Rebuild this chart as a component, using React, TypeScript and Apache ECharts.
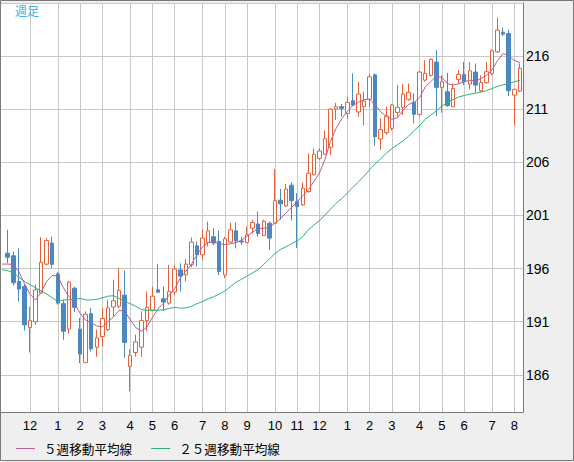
import React, { useEffect, useRef } from "react";
import * as echarts from "echarts";

// Weekly candles (week index 0..92)
const opens = [
  197.45, 197.2, 194.79, 194.3, 190.45, 191.0, 193.7, 196.42, 198.4, 195.5,
  192.7, 190.3, 194.15, 190.3, 187.15, 191.75, 188.6, 189.6, 190.25, 192.38,
  192.45, 193.5, 186.8, 188.1, 188.6, 191.1, 192.1, 194.0, 193.16, 192.75,
  193.8, 195.87, 195.42, 196.36, 198.14, 197.3, 198.45, 199.0, 198.55, 195.4,
  198.5, 199.55, 198.6, 198.45, 199.8, 200.2, 199.1, 200.27, 200.27, 202.44,
  201.9, 203.85, 202.3, 202.0, 203.25, 204.82, 206.38, 206.76, 207.42, 211.02,
  211.24, 210.6, 211.8, 210.74, 211.24, 211.93, 214.24, 208.2, 208.8, 209.2,
  210.7, 211.18, 211.93, 211.65, 210.52, 213.74, 214.2, 215.44, 213.06, 212.65,
  211.24, 213.81, 214.28, 213.37, 214.5, 212.74, 213.5, 214.37, 216.4, 218.25,
  218.13, 212.33, 212.71,
];
const closes = [
  197.07, 194.66, 194.07, 190.7, 191.1, 194.0, 196.6, 198.64, 196.4, 192.75,
  190.1, 194.73, 192.35, 187.96, 191.7, 188.45, 189.47, 191.3, 192.3, 192.97,
  193.95, 189.05, 187.8, 189.1, 191.1, 192.35, 193.4, 193.77, 192.85, 193.85,
  195.95, 195.3, 196.42, 198.5, 197.3, 198.87, 199.55, 198.4, 195.73, 198.8,
  199.65, 198.6, 198.5, 199.18, 200.33, 199.3, 200.46, 198.87, 202.4, 202.1,
  203.47, 202.4, 201.84, 203.57, 204.97, 206.76, 207.07, 208.23, 211.0, 211.24,
  211.08, 211.65, 211.4, 212.43, 211.77, 214.05, 208.42, 209.1, 210.35, 211.4,
  211.18, 212.43, 212.59, 210.52, 214.5, 214.37, 215.69, 213.06, 213.58, 211.33,
  212.96, 214.28, 213.58, 214.62, 213.27, 213.5, 214.53, 216.5, 218.44, 218.07,
  212.74, 212.87, 214.84,
];
const lows = [
  196.5, 194.4, 192.9, 190.15, 188.1, 190.7, 193.6, 196.3, 196.05, 192.6,
  189.3, 189.9, 191.9, 187.1, 187.1, 188.2, 187.7, 188.7, 190.1, 191.5,
  192.3, 187.6, 184.45, 187.7, 187.7, 190.1, 192.0, 193.7, 192.0, 192.6,
  193.5, 193.85, 194.79, 196.14, 196.2, 196.83, 198.1, 198.2, 195.4, 195.1,
  198.4, 197.9, 198.24, 198.4, 199.3, 199.0, 199.1, 197.77, 200.27, 200.6,
  201.8, 200.52, 197.93, 201.9, 203.15, 204.8, 206.23, 206.7, 206.7, 209.98,
  210.3, 210.1, 211.3, 210.3, 209.5, 211.24, 207.57, 207.17, 208.58, 209.0,
  210.3, 210.45, 211.8, 209.67, 210.3, 213.6, 214.06, 210.36, 210.67, 211.24,
  211.2, 213.37, 213.27, 212.87, 212.55, 212.6, 213.4, 214.2, 216.3, 217.9,
  212.25, 209.5, 212.6,
];
const highs = [
  199.65, 197.6, 197.9, 194.5, 192.4, 194.5, 198.96, 198.87, 199.0, 195.7,
  193.07, 194.85, 194.3, 191.35, 191.97, 192.3, 190.25, 192.3, 193.07, 194.95,
  196.05, 195.8, 188.4, 189.78, 191.97, 193.85, 194.3, 196.45, 194.3, 196.36,
  196.26, 196.5, 196.9, 198.93, 198.55, 199.7, 200.43, 199.8, 199.58, 199.0,
  200.33, 200.33, 199.0, 199.96, 200.6, 201.37, 200.6, 200.43, 205.38, 203.5,
  203.97, 204.1, 203.1, 204.1, 206.85, 207.32, 207.32, 208.98, 211.1, 211.6,
  211.5, 212.17, 214.37, 213.6, 212.65, 214.28, 214.37, 210.14, 211.24, 211.5,
  213.27, 213.37, 213.43, 212.5, 214.6, 215.62, 215.8, 216.56, 214.2, 214.43,
  213.43, 214.68, 215.46, 215.46, 215.31, 214.2, 215.46, 216.6, 219.64, 218.7,
  218.5, 212.9, 215.31,
];

// Moving averages, week index -1..92
const maFirstWeek = -1;
const ma5 = [
  196.42, 196.42, 196.4, 195.7, 194.6, 193.6, 193.05, 193.75, 194.8, 195.35,
  195.3, 194.2, 193.35, 192.75, 191.8, 191.15, 190.9, 190.6, 190.5, 191.0,
  191.45, 192.05, 192.0, 191.2, 190.45, 190.1, 190.5, 191.4, 192.2, 192.75,
  193.5, 194.1, 195.1, 195.75, 196.4, 197.3, 198.05, 198.45, 198.5, 198.35,
  198.25, 198.33, 198.45, 198.65, 199.05, 199.45, 199.75, 199.8, 199.85, 200.27,
  200.7, 201.25, 201.75, 202.3, 202.85, 203.4, 204.2, 205.0, 206.3, 208.0,
  209.2, 210.1, 210.8, 211.35, 211.65, 211.9, 211.95, 211.4, 210.75, 210.35,
  210.05, 210.2, 210.9, 211.45, 211.65, 212.1, 213.1, 213.6, 214.1, 214.0,
  213.4, 213.27, 213.4, 213.6, 213.72, 213.68, 213.88, 214.2, 214.7, 215.6,
  216.25, 216.0, 215.6, 215.37,
];
const ma25 = [
  195.9, 195.8, 195.6, 195.2, 194.8, 194.5, 194.2, 193.9, 193.6, 193.25,
  192.9, 193.05, 193.07, 193.1, 193.2, 193.05, 193.05, 193.1, 193.25, 193.4,
  193.45, 193.2, 192.9, 192.7, 192.45, 192.15, 192.08, 192.06, 192.08, 192.12,
  192.25, 192.35, 192.28, 192.3, 192.45, 192.7, 192.9, 193.15, 193.35, 193.6,
  193.9, 194.3, 194.7, 195.0, 195.3, 195.6, 195.9, 196.4, 196.9, 197.4,
  197.8, 198.05, 198.35, 198.6, 199.0, 199.65, 200.1, 200.5, 201.05, 201.6,
  202.15, 202.6, 203.1, 203.65, 204.15, 204.7, 205.3, 205.85, 206.35, 206.85,
  207.3, 207.65, 208.0, 208.45, 209.0, 209.45, 210.05, 210.45, 210.85, 211.3,
  211.65, 211.9, 212.15, 212.3, 212.42, 212.5, 212.62, 212.75, 212.95, 213.15,
  213.3, 213.42, 213.58, 213.72,
];

// First week of each month and its label
const monthStartWeeks = [4, 9, 13, 17, 22, 26, 30, 35, 39, 43, 48, 52, 56, 61, 65, 69, 74, 78, 82, 87, 91];
const monthLabels = ["12", "1", "2", "3", "4", "5", "6", "7", "8", "9", "10", "11", "12", "1", "2", "3", "4", "5", "6", "7", "8"];

const priceGridLines = [186, 191, 196, 201, 206, 211, 216, 221];
const priceLabels = [186, 191, 196, 201, 206, 211, 216];

const seriesNames = ["５週移動平均線", "２５週移動平均線"];

const UP = "#e4623a";
const DOWN = "#4a88c2";
const MA5C = "#b85c92";
const MA25C = "#2db36e";

export default function App() {
  const ref = useRef<HTMLDivElement>(null);
  useEffect(() => {
    if (!ref.current) return;
    const chart = echarts.init(ref.current, null, { renderer: "svg" });
    const candleData = opens.map((o, i) => [i, o, closes[i], lows[i], highs[i]]);
    const ma5Data = ma5.map((v, k) => [k + maFirstWeek, v]);
    const ma25Data = ma25.map((v, k) => [k + maFirstWeek, v]);
    const labelMap: Record<number, string> = {};
    monthStartWeeks.forEach((w, k) => (labelMap[w] = monthLabels[k]));

    // pixel geometry of the plot (1..523 x, 3..412 y); week 0 at x=7.7, 5.567px per week
    const weekPx = 5.567;
    const firstPx = 7.7;
    const xMin = (1 - firstPx) / weekPx;
    const xMax = (523 - firstPx) / weekPx;

    chart.setOption({
      animation: false,
      backgroundColor: "#efefef",
      title: {
        text: "週足",
        left: 15,
        top: 4,
        padding: 0,
        textStyle: { color: "#38b2e8", fontSize: 12, fontWeight: "normal", fontFamily: "Noto Sans CJK JP", lineHeight: 13 },
      },
      legend: {
        data: seriesNames,
        left: 16,
        top: 441,
        padding: 0,
        icon: "rect",
        itemWidth: 19,
        itemHeight: 1,
        itemGap: 19,
        textStyle: {
          fontSize: 12.6,
          lineHeight: 15,
          color: "#000",
          fontFamily: "Noto Sans CJK JP",
          padding: [0, 0, 0, 4],
        },
      },
      graphic: [
        {
          type: "rect",
          shape: { x: 0.5, y: 0.5, width: 573, height: 460 },
          style: { fill: "none", stroke: "#7a7a7a", lineWidth: 1 },
          silent: true,
          z: 100,
        },
      ],
      grid: { left: 1, right: 51, top: 3, bottom: 50, show: true, backgroundColor: "#fff", borderWidth: 0 },
      xAxis: {
        type: "value",
        min: xMin,
        max: xMax,
        position: "bottom",
        axisLine: { show: true, onZero: false, lineStyle: { color: "#7a7a7a" } },
        axisTick: { show: false, customValues: monthStartWeeks },
        axisLabel: {
          customValues: monthStartWeeks,
          formatter: (v: number) => labelMap[Math.round(v)] ?? "",
          color: "#000",
          fontSize: 13,
          fontFamily: "Liberation Sans",
          margin: 7,
        },
        splitLine: { show: true, lineStyle: { color: "#c8c8c8", width: 1 } },
      },
      yAxis: {
        type: "value",
        position: "right",
        min: 182.5,
        max: 221,
        scale: true,
        axisLine: { show: true, onZero: false, lineStyle: { color: "#7a7a7a" } },
        axisTick: { show: false, customValues: priceGridLines },
        axisLabel: {
          customValues: priceLabels,
          color: "#000",
          fontSize: 14,
          fontFamily: "Liberation Sans",
          margin: 3,
        },
        splitLine: { show: true, lineStyle: { color: "#c8c8c8", width: 1 } },
      },
      series: [
        {
          type: "candlestick",
          data: candleData,
          encode: { x: 0, y: [1, 2, 3, 4] },
          barWidth: 4,
          itemStyle: {
            color: "#fff",
            color0: DOWN,
            borderColor: UP,
            borderColor0: DOWN,
            borderWidth: 1,
          },
          silent: true,
        },
        {
          name: seriesNames[0],
          type: "line",
          data: ma5Data,
          showSymbol: false,
          symbol: "none",
          color: MA5C,
          itemStyle: { color: MA5C },
          lineStyle: { color: MA5C, width: 1 },
          silent: true,
        },
        {
          name: seriesNames[1],
          type: "line",
          data: ma25Data,
          showSymbol: false,
          symbol: "none",
          color: MA25C,
          itemStyle: { color: MA25C },
          lineStyle: { color: MA25C, width: 1 },
          silent: true,
        },
      ],
    });
    return () => chart.dispose();
  }, []);
  return <div ref={ref} style={{ position: "fixed", left: 0, top: 0, width: 574, height: 462 }} />;
}
